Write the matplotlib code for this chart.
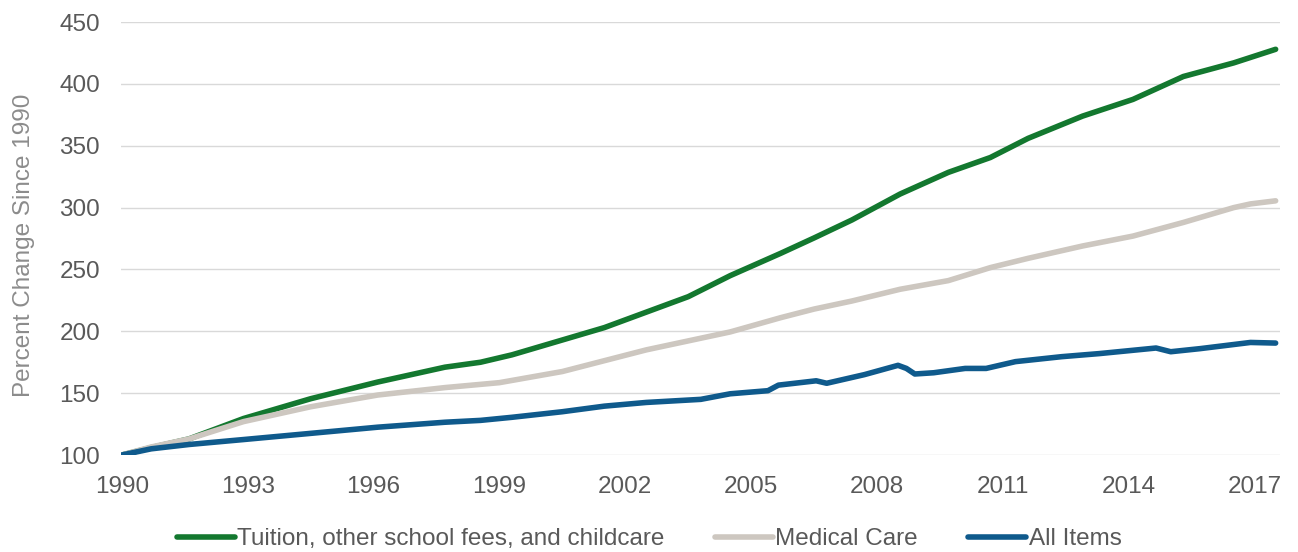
import matplotlib.pyplot as plt

plt.rcParams['font.family'] = ['Liberation Sans', 'DejaVu Sans']

# values (decimal year, index 1990 = 100)
tuition_x = [1990.0, 1990.7, 1991.6, 1992.9, 1994.5, 1996.1, 1997.7, 1998.55, 1999.3,
             2000.5, 2001.5, 2002.5, 2003.5, 2004.5, 2005.7, 2006.5, 2007.4, 2008.55,
             2009.7, 2010.7, 2011.6, 2012.9, 2014.1, 2015.3, 2016.5, 2017.5]
tuition_y = [100, 106, 113, 129.5, 145.5, 159, 171, 175, 181,
             193, 203, 215.5, 228, 245, 263, 275.5, 290, 311,
             328.5, 340.5, 356, 374, 387.5, 406, 417, 428]

medical_x = [1990.0, 1990.7, 1991.6, 1992.9, 1994.5, 1996.1, 1997.7, 1999.0, 2000.5,
             2002.5, 2004.5, 2005.7, 2006.5, 2007.4, 2008.55, 2009.7, 2010.7, 2011.6,
             2012.9, 2014.1, 2015.3, 2016.5, 2016.9, 2017.5]
medical_y = [100, 106.5, 113, 127, 139, 148.5, 154.5, 158.5, 167.5,
             185, 199.5, 211, 218, 224.5, 234, 241, 251.5, 259,
             269, 277, 288, 300, 303, 305.5]

all_x = [1990.0, 1990.7, 1991.6, 1992.9, 1994.5, 1996.1, 1997.7, 1998.55, 1999.3,
         2000.5, 2001.5, 2002.5, 2003.8, 2004.5, 2005.4, 2005.65, 2006.55, 2006.8,
         2007.7, 2008.5, 2008.7, 2008.9, 2009.35, 2010.1, 2010.6, 2011.3, 2012.4,
         2013.3, 2014.65, 2015.0, 2015.7, 2016.9, 2017.5]
all_y = [100, 105, 108.5, 112.5, 117.5, 122.5, 126.5, 128, 130.5,
         135, 139.5, 142.5, 145, 149.5, 152, 156.5, 160, 158,
         165, 172.5, 170, 165.5, 166.5, 170, 170, 175.5, 179.5,
         182, 186.5, 183.5, 186, 191, 190.5]

year_ticks = list(range(1990, 2018, 3))
y_ticks = list(range(100, 451, 50))

fs = 17.5

fig = plt.figure(figsize=(12.98, 5.52), dpi=100)
ax = fig.add_axes([0.0932, 0.1757, 0.8928, 0.7843])

ax.plot(tuition_x, tuition_y, color='#13782f', lw=4, label='Tuition, other school fees, and childcare',
        solid_capstyle='round')
ax.plot(medical_x, medical_y, color='#cdc7c0', lw=4, label='Medical Care', solid_capstyle='round')
ax.plot(all_x, all_y, color='#0f5a8c', lw=4, label='All Items', solid_capstyle='round')

ax.set_xlim(1989.98, 2017.6)
ax.set_ylim(100, 450)
ax.set_xticks(year_ticks)
ax.set_yticks(y_ticks)
ax.grid(axis='y', color='#d9d9d9', lw=1)
ax.set_axisbelow(True)
for s in ax.spines.values():
    s.set_visible(False)
ax.tick_params(length=0, labelsize=fs, labelcolor='#595959')
ax.tick_params(axis='y', pad=15)
ax.tick_params(axis='x', pad=15)
ax.set_ylabel('Percent Change Since 1990', fontsize=fs, color='#8c8c8c')
ax.yaxis.set_label_coords(-0.074, 0.485)

fig.legend(loc='center', bbox_to_anchor=(0.5, 0.023), ncol=3, frameon=False, fontsize=fs,
           handlelength=2.4, handletextpad=0.1, columnspacing=2.05, labelcolor='#595959')

fig.savefig('out.png', dpi=100)
